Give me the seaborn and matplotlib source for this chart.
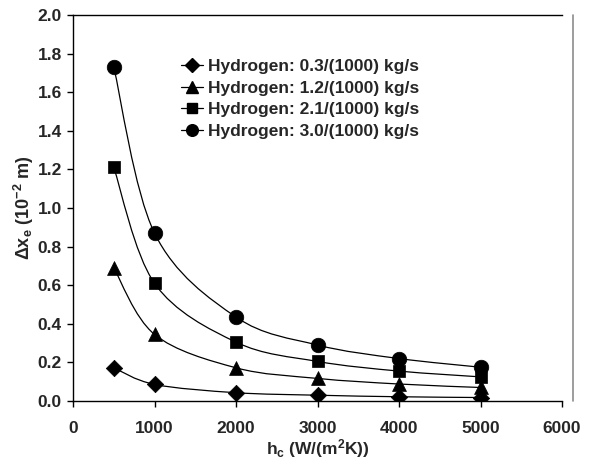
import numpy as np
import pandas as pd
import matplotlib
matplotlib.use("Agg")
import matplotlib.pyplot as plt
from matplotlib.path import Path
from matplotlib.patches import PathPatch
from matplotlib.lines import Line2D
import seaborn as sns

# Heat transfer coefficient (W/(m^2 K))
h_c = [500, 1000, 2000, 3000, 4000, 5000]

# Delta x_e (1e-2 m) for each hydrogen mass flow rate
dx_03 = [0.172, 0.086, 0.043, 0.030, 0.022, 0.018]
dx_12 = [0.690, 0.345, 0.172, 0.117, 0.088, 0.070]
dx_21 = [1.210, 0.610, 0.305, 0.205, 0.155, 0.125]
dx_30 = [1.730, 0.870, 0.435, 0.290, 0.220, 0.175]

labels = ["Hydrogen: 0.3/(1000) kg/s", "Hydrogen: 1.2/(1000) kg/s",
          "Hydrogen: 2.1/(1000) kg/s", "Hydrogen: 3.0/(1000) kg/s"]
series = [dx_03, dx_12, dx_21, dx_30]
markers = ["D", "^", "s", "o"]
msizes = [70, 100, 85, 110]

x_ticks = [0, 1000, 2000, 3000, 4000, 5000, 6000]
y_ticks = [0.0, 0.2, 0.4, 0.6, 0.8, 1.0, 1.2, 1.4, 1.6, 1.8, 2.0]

sns.set_style("ticks")
plt.rcParams["font.family"] = ["Liberation Sans", "DejaVu Sans"]
plt.rcParams["font.weight"] = "bold"
plt.rcParams["mathtext.fontset"] = "custom"
plt.rcParams["mathtext.rm"] = "Liberation Sans:bold"
plt.rcParams["mathtext.it"] = "Liberation Sans:bold"
plt.rcParams["mathtext.bf"] = "Liberation Sans:bold"
plt.rcParams["mathtext.default"] = "rm"

fig = plt.figure(figsize=(5.95, 4.71), dpi=100)
ax = fig.add_axes([73 / 595, 1 - 401 / 471, (562 - 73) / 595, (401 - 15) / 471])

rows = []
for lab, ys in zip(labels, series):
    for x, y in zip(h_c, ys):
        rows.append({"h": x, "dx": y, "flow": lab})
df = pd.DataFrame(rows)


def smooth_path(xs, ys):
    """Cubic Bezier path through the points (spreadsheet-style smoothing)."""
    pts = np.column_stack([xs, ys]).astype(float)
    n = len(pts)
    verts = [pts[0]]
    codes = [Path.MOVETO]
    for i in range(n - 1):
        p0 = pts[i - 1] if i > 0 else pts[i]
        p1 = pts[i]
        p2 = pts[i + 1]
        p3 = pts[i + 2] if i + 2 < n else pts[i + 1]
        c1 = p1 + (p2 - p0) / 6.0
        c2 = p2 - (p3 - p1) / 6.0
        verts += [c1, c2, p2]
        codes += [Path.CURVE4] * 3
    return Path(verts, codes)


handles = []
for lab, ys, m, s in zip(labels, series, markers, msizes):
    ax.add_patch(PathPatch(smooth_path(h_c, ys), facecolor="none",
                           edgecolor="black", lw=0.9, zorder=2))
    sns.scatterplot(data=df[df["flow"] == lab], x="h", y="dx", marker=m, s=s,
                    color="black", edgecolor="black", linewidth=0.5,
                    ax=ax, zorder=3, legend=False)
    handles.append(Line2D([], [], color="black", lw=0.9, marker=m,
                          markersize=np.sqrt(s) * 0.8, label=lab))

ax.set_xlim(0, 6000)
ax.set_ylim(0, 2.0)
ax.set_xticks(x_ticks)
ax.set_yticks(y_ticks)
ax.set_xticklabels([str(t) for t in x_ticks])
ax.set_yticklabels([f"{t:.1f}" for t in y_ticks])
ax.tick_params(axis="both", direction="out", length=4, width=1,
               labelsize=12.5, color="black")
ax.tick_params(axis="x", pad=10.5)
ax.tick_params(axis="y", pad=4)
for t in ax.get_xticklabels() + ax.get_yticklabels():
    t.set_fontweight("bold")

for side in ["left", "bottom", "top"]:
    ax.spines[side].set_visible(True)
    ax.spines[side].set_color("black")
    ax.spines[side].set_linewidth(1.0)
ax.spines["right"].set_visible(False)

ax.set_xlabel("h$_{c}$ (W/(m$^{2}$K))", fontsize=12.5, fontweight="bold",
              labelpad=1)
ax.set_ylabel("\u0394x$_{e}$ (10$^{-2}$ m)", fontsize=13, fontweight="bold",
              labelpad=1)

ax.legend(handles=handles, loc="upper left", bbox_to_anchor=(0.22, 0.886),
          frameon=False, handlelength=1.3, handletextpad=0.3,
          labelspacing=0.37, borderaxespad=0, borderpad=0,
          prop={"weight": "bold", "size": 12.5})

fig.add_artist(Line2D([573 / 595, 573 / 595], [1 - 15 / 471, 1 - 401 / 471],
                      transform=fig.transFigure, color="0.55", lw=1.2))

fig.savefig("out.png", dpi=100, facecolor="white")
